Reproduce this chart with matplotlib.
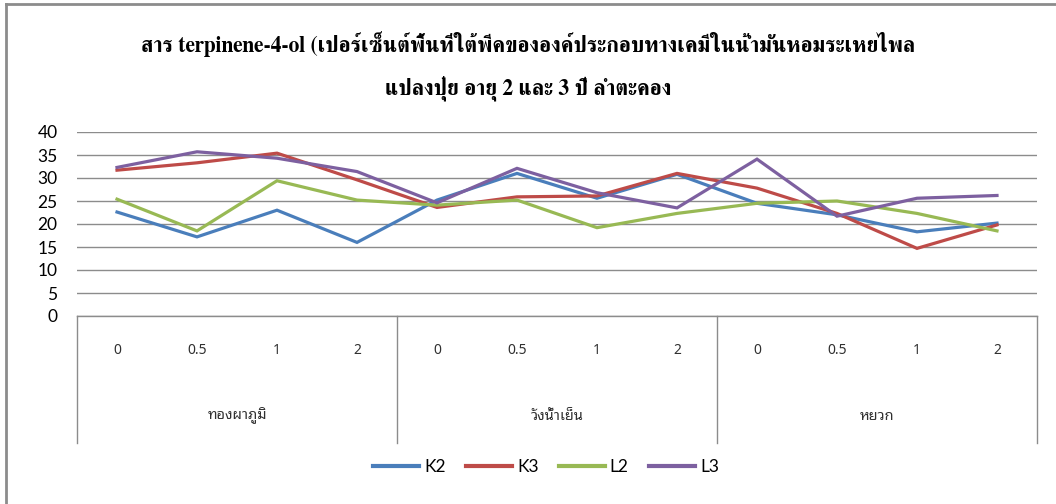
import matplotlib
matplotlib.use("Agg")
import matplotlib.pyplot as plt
from matplotlib.lines import Line2D

# terpinene-4-ol (% peak area) by site and fertiliser rate
sites = ["ทองผาภูมิ", "วังน้ำเย็น", "หยวก"]
rates = ["0", "0.5", "1", "2"]
K2 = [22.6, 17.2, 23.0, 16.0, 25.2, 31.0, 25.6, 30.8, 24.5, 22.0, 18.3, 20.2]
K3 = [31.7, 33.3, 35.4, 29.6, 23.6, 25.9, 26.1, 31.0, 27.8, 22.3, 14.7, 19.8]
L2 = [25.4, 18.5, 29.4, 25.2, 24.1, 25.2, 19.2, 22.3, 24.5, 25.0, 22.3, 18.5]
L3 = [32.3, 35.7, 34.3, 31.4, 24.6, 32.1, 26.8, 23.5, 34.1, 21.7, 25.6, 26.2]
series = {"K2": K2, "K3": K3, "L2": L2, "L3": L3}
colors = {"K2": "#4a7ebb", "K3": "#be4b48", "L2": "#98b954", "L3": "#7d60a0"}

title = ("สาร terpinene-4-ol (เปอร์เซ็นต์พื้นที่ใต้พีคขององค์ประกอบทางเคมีในน้ำมันหอมระเหยไพล\n"
         "แปลงปุ๋ย อายุ 2 และ 3 ปี ลำตะคอง")

W, H = 1056, 504
fig = plt.figure(figsize=(W / 100, H / 100), dpi=100)
ax = fig.add_axes([77 / W, 1 - 316 / H, (1037 - 77) / W, (316 - 132) / H])

x = list(range(len(K2)))
for name, vals in series.items():
    ax.plot(x, vals, color=colors[name], lw=2.3, label=name, solid_joinstyle="miter")

ax.set_xlim(-0.5, len(x) - 0.5)
ax.set_ylim(0, 40)
ax.set_yticks(range(0, 41, 5))
ax.set_xticks([])
ax.tick_params(axis="y", length=0, pad=14, labelsize=12.5)
for lab in ax.get_yticklabels():
    lab.set_family("Lato")
ax.grid(axis="y", color="#8c8c8c", lw=1)
ax.set_axisbelow(True)
for s in ax.spines.values():
    s.set_visible(False)

# two-level category axis: rates on top, sites below, boxed by dividers
trans = ax.get_xaxis_transform()
axis_h = (443 - 316) / (316 - 132)
ax.plot([-0.5, len(x) - 0.5], [0, 0], color="#8c8c8c", lw=1, transform=trans, clip_on=False)
for k in range(len(sites) + 1):
    xs = -0.5 + 4 * k
    ax.plot([xs, xs], [0, -axis_h], color="#8c8c8c", lw=1, transform=trans, clip_on=False)
for i in x:
    ax.text(i, -(350 - 316) / 184, rates[i % 4], transform=trans, ha="center", va="center",
            fontsize=10, family=["Noto Sans Thai Looped", "DejaVu Sans"], color="#303030")
for k, site in enumerate(sites):
    ax.text(4 * k + 1.5, -(416 - 316) / 184, site, transform=trans, ha="center", va="center",
            fontsize=10.5, family=["Noto Sans Thai Looped", "DejaVu Sans"], color="#303030")

fig.text(0.5, 1 - 66 / H, title, ha="center", va="center", fontsize=15.5, weight="bold",
         family=["FreeSerif", "DejaVu Serif"], linespacing=2.0)

leg = fig.legend(loc="center", bbox_to_anchor=(546 / W, 1 - 467 / H), ncol=4, frameon=False,
                 handlelength=2.65, handletextpad=0.3, columnspacing=1.15,
                 prop={"family": "Lato", "size": 12.5})
for h in leg.get_lines():
    h.set_linewidth(3)

# outer chart-area border (top and left edges)
fig.add_artist(Line2D([6 / W, 1], [1 - 4 / H, 1 - 4 / H], color="#8c8c8c", lw=2))
fig.add_artist(Line2D([6 / W, 6 / W], [1 - 4 / H, 0], color="#8c8c8c", lw=2))

fig.savefig("out.png", dpi=100)
